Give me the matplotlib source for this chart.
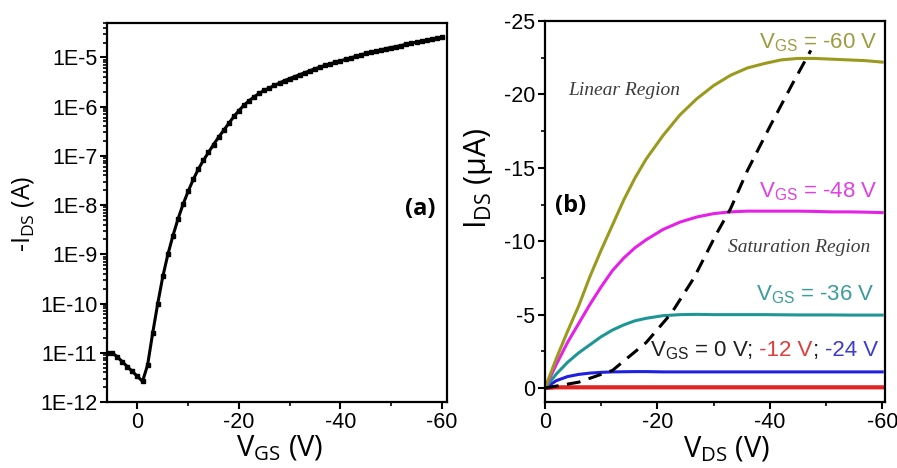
import numpy as np
import matplotlib
matplotlib.use('Agg')
import matplotlib.pyplot as plt
from matplotlib.ticker import MultipleLocator, FixedLocator, FuncFormatter, NullFormatter
from matplotlib.offsetbox import TextArea, HPacker, AnnotationBbox

plt.rcParams['font.family'] = ['Liberation Sans', 'DejaVu Sans']
plt.rcParams['axes.unicode_minus'] = False

#  ----------------------- DATA ----------------------------------

# (a) transfer curve, V_DS fixed, -I_DS on log scale
vgs = np.arange(6, -61, -1)
log_ids = [-11.0, -11.0, -11.08, -11.18, -11.28, -11.38, -11.48, -11.58, -11.25, -10.6,
           -10.0, -9.45, -9.0, -8.62, -8.28, -7.98, -7.72, -7.48, -7.27, -7.09,
           -6.93, -6.77, -6.62, -6.48, -6.34, -6.2, -6.08, -5.97, -5.88, -5.8,
           -5.73, -5.67, -5.62, -5.57, -5.52, -5.47, -5.43, -5.39, -5.35, -5.31,
           -5.27, -5.23, -5.2, -5.16, -5.13, -5.1, -5.07, -5.04, -5.01, -4.98,
           -4.95, -4.92, -4.9, -4.87, -4.85, -4.82, -4.8, -4.78, -4.76, -4.73,
           -4.71, -4.69, -4.67, -4.65, -4.63, -4.61, -4.59]
ids_a = 10.0 ** np.array(log_ids)

# (b) output curves, I_DS in uA
vds = [0, -2, -4, -6, -8, -10, -12, -14, -16, -18, -21, -24, -27, -30, -33, -36, -39,
       -42, -45, -48, -51, -54, -57, -60]
ids_60 = [0, -2.0, -3.85, -5.6, -7.6, -9.4, -11.1, -12.8, -14.3, -15.6, -17.2, -18.6,
          -19.7, -20.6, -21.3, -21.8, -22.1, -22.35, -22.45, -22.45, -22.4, -22.35, -22.3, -22.2]
ids_48 = [0, -1.6, -3.1, -4.4, -5.7, -6.9, -8.0, -8.85, -9.55, -10.1, -10.8, -11.3,
          -11.65, -11.88, -12.0, -12.05, -12.05, -12.05, -12.05, -12.03, -12.0, -12.0, -11.98, -11.95]
ids_36 = [0, -0.95, -1.75, -2.4, -2.95, -3.5, -3.95, -4.3, -4.58, -4.75, -4.93, -5.0,
          -5.02, -5.0, -5.0, -5.0, -5.0, -4.99, -4.98, -4.98, -4.98, -4.97, -4.97, -4.97]
ids_24 = [0, -0.5, -0.78, -0.93, -1.02, -1.07, -1.1, -1.11, -1.12, -1.12, -1.1, -1.1,
          -1.1, -1.1, -1.1, -1.1, -1.1, -1.1, -1.1, -1.1, -1.1, -1.1, -1.1, -1.1]
ids_12 = [0, -0.05, -0.05, -0.05, -0.05, -0.05, -0.05, -0.05, -0.05, -0.05, -0.05, -0.05,
          -0.05, -0.05, -0.05, -0.05, -0.05, -0.05, -0.05, -0.05, -0.05, -0.05, -0.05, -0.05]
# boundary between linear and saturation regions
vsat = [0, -6, -12, -18, -22.5, -26.5, -30.5, -33, -36, -40, -44, -47.3]
isat = [0, -0.4, -1.2, -3.1, -5.1, -7.5, -10.5, -12.2, -14.8, -17.8, -20.7, -23.0]

olive = '#9a9a1e'
magenta = '#e621e6'
teal = '#1f9696'
blue = '#1f1fe0'
red = '#e02424'

#  ----------------------- FIGURE ----------------------------------

W, H = 897, 468
fig = plt.figure(figsize=(W / 100, H / 100), dpi=100)

def px_axes(x0, y0, x1, y1):
    return fig.add_axes([x0 / W, 1 - y1 / H, (x1 - x0) / W, (y1 - y0) / H])

def px_text(x, y, s, **kw):
    return fig.text(x / W, 1 - y / H, s, **kw)

ax1 = px_axes(107, 23, 447, 402)
ax2 = px_axes(545, 21, 885, 402)

for ax in (ax1, ax2):
    for s in ax.spines.values():
        s.set_linewidth(1.6)
    ax.tick_params(which='major', direction='out', length=5, width=1.5, labelsize=15.5, pad=2)
    ax.tick_params(which='minor', direction='out', length=3, width=1.2)

# ---- (a)
ax1.semilogy(vgs, ids_a, color='black', lw=2.2, marker='s', ms=3)
ax1.set_xlim(6, -61)
ax1.set_ylim(1e-12, 5e-5)
ax1.xaxis.set_major_locator(FixedLocator([0, -20, -40, -60]))
ax1.xaxis.set_minor_locator(FixedLocator([-10, -30, -50]))
ax1.yaxis.set_major_locator(FixedLocator([10.0 ** k for k in range(-12, -4)]))
ax1.yaxis.set_major_formatter(FuncFormatter(lambda v, p: '1E%d' % round(np.log10(v))))
ax1.yaxis.set_minor_locator(FixedLocator([m * 10.0 ** k for k in range(-12, -4) for m in range(2, 10)]))
ax1.yaxis.set_minor_formatter(NullFormatter())

px_text(420, 209, '(a)', fontsize=17, fontweight='bold', family='Open Sans', ha='center', va='center')
px_text(23, 214, r'-$\mathregular{I_{DS}}$ (A)', fontsize=18, family='Open Sans',
        rotation=90, ha='center', va='center')
px_text(280, 456, r'$\mathregular{V_{GS}}$ (V)', fontsize=21, family='Open Sans',
        ha='center', va='baseline')

# ---- (b)
ax2.plot(vds, ids_12, color=red, lw=3)
ax2.plot(vds, ids_24, color=blue, lw=2.2)
ax2.plot(vds, ids_36, color=teal, lw=2.2)
ax2.plot(vds, ids_48, color=magenta, lw=2.2)
ax2.plot(vds, ids_60, color=olive, lw=2.2)
ax2.plot(vsat, isat, color='black', lw=2.2, dashes=(4.5, 2.8))
ax2.set_xlim(0, -60.5)
ax2.set_ylim(0.95, -25)
ax2.xaxis.set_major_locator(MultipleLocator(20))
ax2.xaxis.set_minor_locator(MultipleLocator(10))
ax2.yaxis.set_major_locator(MultipleLocator(5))
ax2.yaxis.set_minor_locator(MultipleLocator(2.5))
ax2.xaxis.set_major_formatter(FuncFormatter(lambda v, p: '%d' % round(v)))
ax2.yaxis.set_major_formatter(FuncFormatter(lambda v, p: '%d' % round(v)))

px_text(571, 206, '(b)', fontsize=17, fontweight='bold', family='Open Sans', ha='center', va='center')
px_text(478, 178, r'$\mathregular{I_{DS}}$ ($\mathregular{\mu}$A)', fontsize=22,
        family='Open Sans', rotation=90, ha='center', va='center')
px_text(727, 457, r'$\mathregular{V_{DS}}$ (V)', fontsize=21, family='Open Sans',
        ha='center', va='baseline')

lab = dict(fontsize=16, ha='right', va='baseline')
px_text(878, 48, r'$\mathregular{V_{GS}}$ = -60 V', color='#9c9c40', **lab)
px_text(878, 197, r'$\mathregular{V_{GS}}$ = -48 V', color='#e040e0', **lab)
px_text(875, 300, r'$\mathregular{V_{GS}}$ = -36 V', color='#3a9c9c', **lab)

reg = dict(fontsize=14, family='Liberation Serif', style='italic', color='#3c3c3c', va='baseline')
px_text(568, 95, 'Linear Region', **reg)
px_text(728, 252, 'Saturation Region', **reg)

# multi-coloured gate voltage label, pieces packed on one baseline
parts = [(r'$\mathregular{V_{GS}}$ = 0 V;', '#202020'), (' -12 V', '#e03c3c'),
         ('; ', '#202020'), ('-24 V', '#3c3cd0')]
box = HPacker(children=[TextArea(t, textprops=dict(color=c, fontsize=16)) for t, c in parts],
              align='baseline', pad=0, sep=0)
ab = AnnotationBbox(box, (878 / W, 1 - 362 / H), xycoords='figure fraction',
                    box_alignment=(1, 0), frameon=False, pad=0)
fig.add_artist(ab)

fig.savefig('out.png', dpi=100)
